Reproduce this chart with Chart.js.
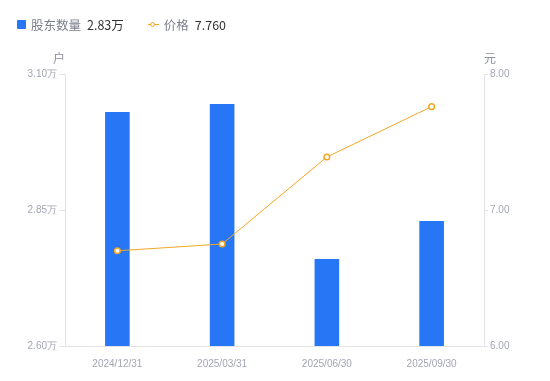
<!DOCTYPE html>
<html>
<head>
<meta charset="utf-8">
<script src="https://cdn.jsdelivr.net/npm/chart.js@4"></script>
<style>
  html, body { margin: 0; padding: 0; background: #fff; }
  #wrap { position: relative; width: 550px; height: 381px; }
  #legend { position: absolute; left: 17px; top: 15px; font: 12.5px "Noto Sans CJK SC", "Noto Sans", sans-serif; display: flex; align-items: center; white-space: nowrap; }
  #legend .item { display: flex; align-items: center; margin-right: 24px; }
  #legend .name { color: #7b7e8c; margin-right: 6px; }
  #legend .val { color: #333; }
  .sq { width: 9px; height: 9px; background: #2776f6; border-radius: 1px; margin-right: 5px; }
  .ln { position: relative; width: 11px; height: 9px; margin-right: 5px; }
  .ln:before { content: ""; position: absolute; left: 0; right: 0; top: 4px; height: 1px; background: #f5a623; }
  .ln:after { content: ""; position: absolute; left: 2.5px; top: 1.5px; width: 3px; height: 3px; border: 1.5px solid #f5a623; border-radius: 50%; background: #fff; }
</style>
</head>
<body>
<div id="wrap">
  <div id="legend"></div>
  <canvas id="chart" width="550" height="381"></canvas>
</div>
<script>
const dates = ['2024/12/31', '2025/03/31', '2025/06/30', '2025/09/30'];
const holders = [3.03, 3.045, 2.76, 2.83];   // 万户
const prices = [6.70, 6.75, 7.39, 7.76];     // 元
const holderTicks = [2.60, 2.85, 3.10];
const priceTicks = [6.00, 7.00, 8.00];

const blue = '#2776f6';
const orange = '#f5a623';
const tickColor = '#a3a5b4';
const lineColor = '#e3e4ea';

document.getElementById('legend').innerHTML =
    '<div class="item"><span class="sq"></span><span class="name">股东数量</span><span class="val">' +
    holders[holders.length - 1].toFixed(2) + '万</span></div>' +
    '<div class="item"><span class="ln"></span><span class="name">价格</span><span class="val">' +
    prices[prices.length - 1].toFixed(3) + '</span></div>';

const unitTitles = {
    id: 'unitTitles',
    afterDraw(chart) {
        const c = chart.ctx;
        const area = chart.chartArea;
        c.save();
        c.font = '12px "Noto Sans CJK SC", sans-serif';
        c.fillStyle = '#8c8f9c';
        c.textBaseline = 'middle';
        c.textAlign = 'center';
        c.fillText('户', area.left - 6, area.top - 16);
        c.fillText('元', area.right + 6, area.top - 16);
        c.restore();
    }
};

new Chart(document.getElementById('chart'), {
    data: {
        labels: dates,
        datasets: [{
            type: 'line',
            label: '价格',
            data: prices,
            yAxisID: 'y1',
            borderColor: orange,
            borderWidth: 1,
            pointRadius: 2.8,
            pointBorderWidth: 1.5,
            pointBackgroundColor: '#fff',
            pointBorderColor: orange,
            tension: 0,
            order: 0
        }, {
            type: 'bar',
            label: '股东数量',
            data: holders,
            yAxisID: 'y',
            backgroundColor: blue,
            categoryPercentage: 1,
            barPercentage: 0.235,
            order: 1
        }]
    },
    options: {
        responsive: false,
        animation: false,
        layout: { padding: { top: 74, left: 0, right: 0, bottom: 0 } },
        plugins: { legend: { display: false }, tooltip: { enabled: false } },
        scales: {
            x: {
                grid: { display: false },
                border: { color: lineColor },
                ticks: { color: tickColor, font: { size: 10 }, padding: 4 },
                afterFit(s) { s.height = 35; }
            },
            y: {
                position: 'left',
                min: 2.60, max: 3.10,
                afterBuildTicks(s) { s.ticks = holderTicks.map(v => ({ value: v })); },
                grid: { drawOnChartArea: false, color: lineColor, tickLength: 6 },
                border: { color: lineColor },
                ticks: { color: tickColor, font: { size: 10 }, padding: 2,
                    callback: v => v.toFixed(2) + '万' },
                afterFit(s) { s.width = 65; }
            },
            y1: {
                position: 'right',
                min: 6, max: 8,
                afterBuildTicks(s) { s.ticks = priceTicks.map(v => ({ value: v })); },
                grid: { drawOnChartArea: false, color: lineColor, tickLength: 4 },
                border: { color: lineColor },
                ticks: { color: tickColor, font: { size: 10 }, padding: 2,
                    callback: v => v.toFixed(2) },
                afterFit(s) { s.width = 66; }
            }
        }
    },
    plugins: [unitTitles]
});
</script>
</body>
</html>
